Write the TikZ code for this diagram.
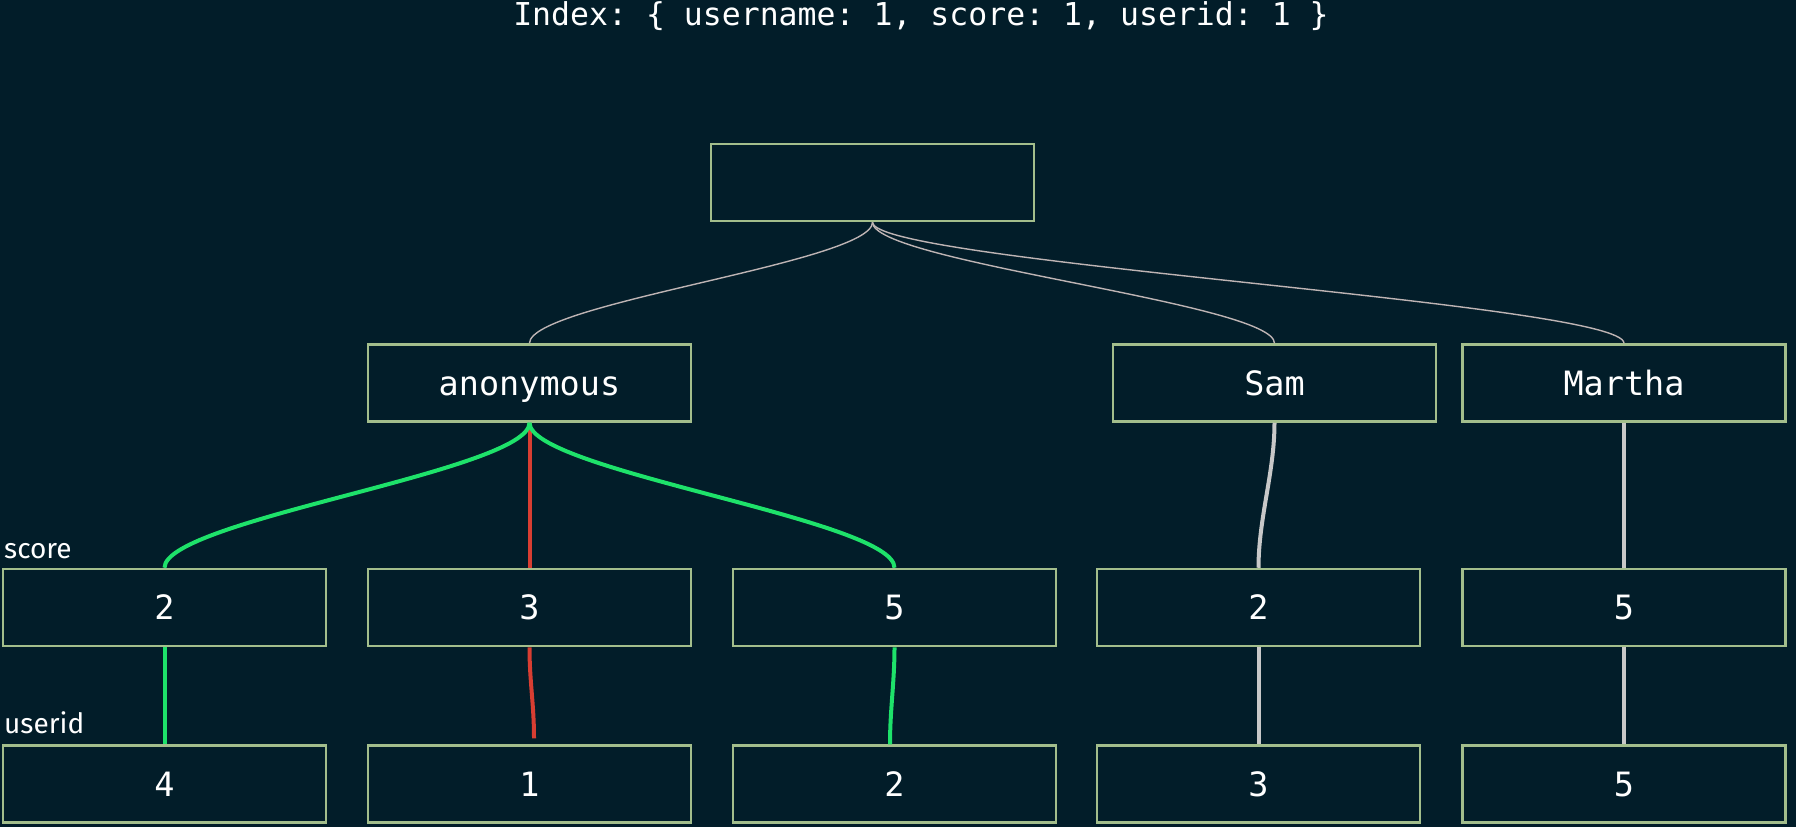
\documentclass[tikz,border=0pt]{standalone}
\usepackage{fontspec}
\setmonofont{DejaVu Sans Mono}
\newfontfamily\labelfont{Fira Sans}
\usepackage{tikz}
\usetikzlibrary{calc}
\definecolor{idxbg}{RGB}{2,29,41}
\definecolor{idxbox}{RGB}{163,190,140}
\definecolor{idxgreen}{RGB}{30,226,106}
\definecolor{idxred}{RGB}{216,62,50}
\definecolor{idxgray}{RGB}{200,200,200}
\definecolor{idxthin}{RGB}{190,180,180}

\begin{document}
\begin{tikzpicture}[x=1pt,y=-1pt,
    keybox/.style={draw=idxbox,line width=2.5pt,minimum width=323pt,
      minimum height=77pt,inner sep=0pt,text=white,
      text height=24.4pt,text depth=0pt,
      font=\ttfamily\fontsize{33.5}{36}\selectfont},
    sidelabel/.style={anchor=base west,text=white,inner sep=0pt,
      font=\labelfont\fontsize{28}{30}\selectfont},
    thinedge/.style={idxthin,line width=1.4pt},
    hitedge/.style={idxgreen,line width=4pt},
    missedge/.style={idxred,line width=4pt},
    plainedge/.style={idxgray,line width=4pt}]
  \useasboundingbox (0,0) rectangle (1796,827);
  \fill[idxbg] (0,0) rectangle (1796,827);

  \node[anchor=base,text=white,inner sep=0pt,
    font=\ttfamily\fontsize{31.5}{34}\selectfont] (title) at (921,25)
    {Index: \{ username: 1, score: 1, userid: 1 \}};

  \node[keybox] (root) at (872.5,182.5) {};
  \foreach \name/\x/\v in {anon/529.5/anonymous,sam/1274.5/Sam,martha/1624/Martha}
    \node[keybox] (\name) at (\x,383) {\v};
  \foreach \name/\x/\v in {s2/164.5/2,s3/529.5/3,s5/894.5/5,ssam/1258.5/2,smartha/1624/5}
    \node[keybox] (\name) at (\x,607.5) {\v};
  \foreach \name/\x/\v in {u4/164.5/4,u1/529.5/1,u2/894.5/2,usam/1258.5/3,umartha/1624/5}
    \node[keybox] (\name) at (\x,784) {\v};

  \node[sidelabel] (scorelbl) at (4,558) {score};
  \node[sidelabel] (useridlbl) at (4,733) {userid};

  % username level
  \foreach \child in {anon,sam,martha}
    \draw[thinedge] (root.south) .. controls +(0,40) and +(0,-40) .. (\child.north);

  % score level
  \draw[missedge] (anon.south) -- (s3.north);
  \draw[hitedge] (anon.south) .. controls +(0,48) and +(0,-48) .. (s2.north);
  \draw[hitedge] (anon.south) .. controls +(0,48) and +(0,-48) .. (s5.north);
  \draw[plainedge] (sam.south) .. controls +(0,50) and +(0,-50) .. (ssam.north);
  \draw[plainedge] (martha.south) -- (smartha.north);

  % userid level
  \draw[hitedge] (s2.south) -- (u4.north);
  \draw[missedge] (s3.south) .. controls +(0,35) and +(0,-35) .. ([xshift=4.5pt,yshift=6pt]u1.north);
  \draw[hitedge] (s5.south) .. controls +(0,35) and +(0,-35) .. (u2.north -| 890,0);
  \draw[plainedge] (ssam.south) -- (usam.north);
  \draw[plainedge] (smartha.south) -- (umartha.north);
\end{tikzpicture}
\end{document}
